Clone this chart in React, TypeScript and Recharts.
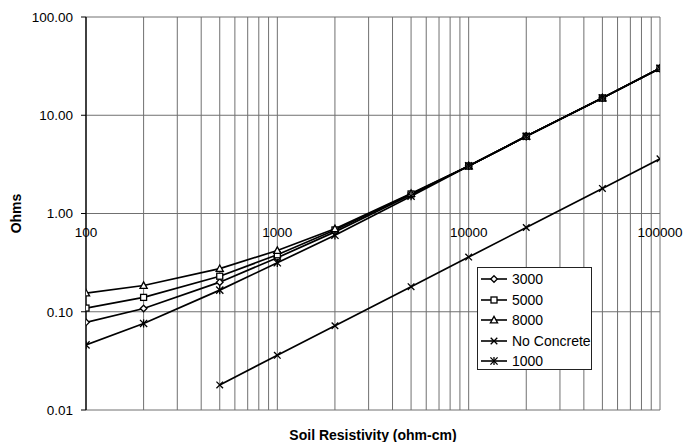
import React from 'react';
import {
  LineChart, Line, XAxis, YAxis, CartesianGrid, ReferenceDot, Label,
} from 'recharts';

const resistivity = [100, 200, 500, 1000, 2000, 5000, 10000, 20000, 50000, 100000];
const s3000 = [0.078, 0.108, 0.2, 0.355, 0.65, 1.55, 3.05, 6.1, 15, 30];
const s5000 = [0.109, 0.14, 0.23, 0.38, 0.68, 1.58, 3.05, 6.1, 15, 30];
const s8000 = [0.155, 0.185, 0.275, 0.42, 0.7, 1.6, 3.05, 6.1, 15, 30];
const noConcrete = [null, null, 0.018, 0.036, 0.072, 0.18, 0.36, 0.72, 1.8, 3.6];
const s1000 = [0.046, 0.076, 0.166, 0.315, 0.6, 1.5, 3.05, 6.1, 15, 30];

const xGridTicks = [
  100, 200, 300, 400, 500, 600, 700, 800, 900,
  1000, 2000, 3000, 4000, 5000, 6000, 7000, 8000, 9000,
  10000, 20000, 30000, 40000, 50000, 60000, 70000, 80000, 90000,
  100000,
];
const xLabelTicks = [100, 1000, 10000, 100000];
const yTicks = [0.01, 0.1, 1, 10, 100];

const seriesNames = ['3000', '5000', '8000', 'No Concrete', '1000'];
const seriesKeys = ['s3000', 's5000', 's8000', 'noConcrete', 's1000'];
const seriesShapes = ['diamond', 'square', 'triangle', 'cross', 'star'];

const data = resistivity.map((x, i) => ({
  x,
  s3000: s3000[i],
  s5000: s5000[i],
  s8000: s8000[i],
  noConcrete: noConcrete[i],
  s1000: s1000[i],
}));

const FONT = '"Liberation Sans", Arial, sans-serif';

function Marker({ shape, cx, cy }: { shape: string; cx: number; cy: number }) {
  const sw = 1.3;
  if (shape === 'diamond') {
    const r = 3.3;
    return <polygon points={`${cx},${cy - r} ${cx + r},${cy} ${cx},${cy + r} ${cx - r},${cy}`} fill="#fff" stroke="#000" strokeWidth={sw} />;
  }
  if (shape === 'square') {
    const r = 3;
    return <rect x={cx - r} y={cy - r} width={2 * r} height={2 * r} fill="#fff" stroke="#000" strokeWidth={sw} />;
  }
  if (shape === 'triangle') {
    const r = 3.6;
    return <polygon points={`${cx},${cy - r} ${cx + r},${cy + r * 0.8} ${cx - r},${cy + r * 0.8}`} fill="#fff" stroke="#000" strokeWidth={sw} />;
  }
  if (shape === 'cross') {
    const r = 3.3;
    return (
      <g stroke="#000" strokeWidth={sw}>
        <line x1={cx - r} y1={cy - r} x2={cx + r} y2={cy + r} />
        <line x1={cx - r} y1={cy + r} x2={cx + r} y2={cy - r} />
      </g>
    );
  }
  const r = 3.6;
  return (
    <g stroke="#000" strokeWidth={sw}>
      <line x1={cx - r} y1={cy - r} x2={cx + r} y2={cy + r} />
      <line x1={cx - r} y1={cy + r} x2={cx + r} y2={cy - r} />
      <line x1={cx} y1={cy - r - 0.5} x2={cx} y2={cy + r + 0.5} />
    </g>
  );
}

const makeDot = (shape: string) => (props: any) => {
  const { cx, cy, index, value } = props;
  if (cx == null || cy == null || value == null || Number.isNaN(cy)) {
    return <g key={`e-${shape}-${index}`} />;
  }
  return <Marker key={`m-${shape}-${index}`} shape={shape} cx={cx} cy={cy} />;
};

function LegendBox() {
  return (
    <div
      style={{
        position: 'absolute',
        left: 477,
        top: 267,
        width: 113,
        height: 100,
        border: '1px solid #222',
        background: '#fff',
        fontFamily: FONT,
        fontSize: 14,
        color: '#000',
        boxSizing: 'content-box',
        paddingTop: 1,
      }}
    >
      {seriesNames.map((name, i) => (
        <div key={name} style={{ display: 'flex', alignItems: 'center', height: 20.5 }}>
          <svg width={30} height={14} style={{ marginLeft: 2, marginRight: 2 }}>
            <line x1={1} y1={7} x2={27} y2={7} stroke="#000" strokeWidth={1.6} />
            <Marker shape={seriesShapes[i]} cx={14} cy={7} />
          </svg>
          <span style={{ lineHeight: '14px' }}>{name}</span>
        </div>
      ))}
    </div>
  );
}

export default function App() {
  return (
    <div style={{ position: 'absolute', left: 0, top: 0, width: 684, height: 442, background: '#fff' }}>
      <LineChart
        width={684}
        height={442}
        data={data}
        margin={{ top: 17, right: 24, bottom: 0, left: 0 }}
        style={{ fontFamily: FONT }}
      >
        <CartesianGrid stroke="#707070" strokeWidth={1} />
        <XAxis
          dataKey="x"
          type="number"
          scale="log"
          domain={[100, 100000]}
          ticks={xGridTicks}
          interval={0}
          tick={() => <g />}
          tickLine={false}
          axisLine={false}
          height={32}
          allowDataOverflow
        >
          <Label
            content={(p: any) => {
              const vb = p.viewBox || {};
              return (
                <text
                  x={vb.x + vb.width / 2}
                  y={vb.y + 25}
                  textAnchor="middle"
                  dominantBaseline="central"
                  fontWeight="bold"
                  fontSize={14}
                  fontFamily={FONT}
                  fill="#000"
                >
                  Soil Resistivity (ohm-cm)
                </text>
              );
            }}
          />
        </XAxis>
        <YAxis
          type="number"
          scale="log"
          domain={[0.01, 100]}
          ticks={yTicks}
          interval={0}
          width={86}
          allowDataOverflow
          tickFormatter={(v: number) => v.toFixed(2)}
          tick={{ fontSize: 13.5, fill: '#000', fontFamily: FONT }}
          tickLine={{ stroke: '#000' }}
          axisLine={{ stroke: '#000', strokeWidth: 1.3 }}
          tickSize={5}
          tickMargin={8}
        >
          <Label
            content={(p: any) => {
              const vb = p.viewBox || {};
              const cx = vb.x + 16;
              const cy = vb.y + vb.height / 2;
              return (
                <text
                  x={cx}
                  y={cy}
                  transform={`rotate(-90, ${cx}, ${cy})`}
                  textAnchor="middle"
                  dominantBaseline="central"
                  fontWeight="bold"
                  fontSize={14}
                  fontFamily={FONT}
                  fill="#000"
                >
                  Ohms
                </text>
              );
            }}
          />
        </YAxis>
        {xLabelTicks.map((t) => (
          <ReferenceDot
            key={`xl-${t}`}
            x={t}
            y={1}
            r={0}
            stroke="none"
            fill="none"
            ifOverflow="visible"
            label={{ value: String(t), position: 'bottom', offset: 14, fontSize: 13.5, fill: '#000', fontFamily: FONT }}
          />
        ))}
        {seriesKeys.map((k, i) => (
          <Line
            key={k}
            dataKey={k}
            name={seriesNames[i]}
            stroke="#000"
            strokeWidth={1.7}
            dot={makeDot(seriesShapes[i])}
            activeDot={false}
            isAnimationActive={false}
            connectNulls={false}
            type="linear"
          />
        ))}
      </LineChart>
      <LegendBox />
    </div>
  );
}
